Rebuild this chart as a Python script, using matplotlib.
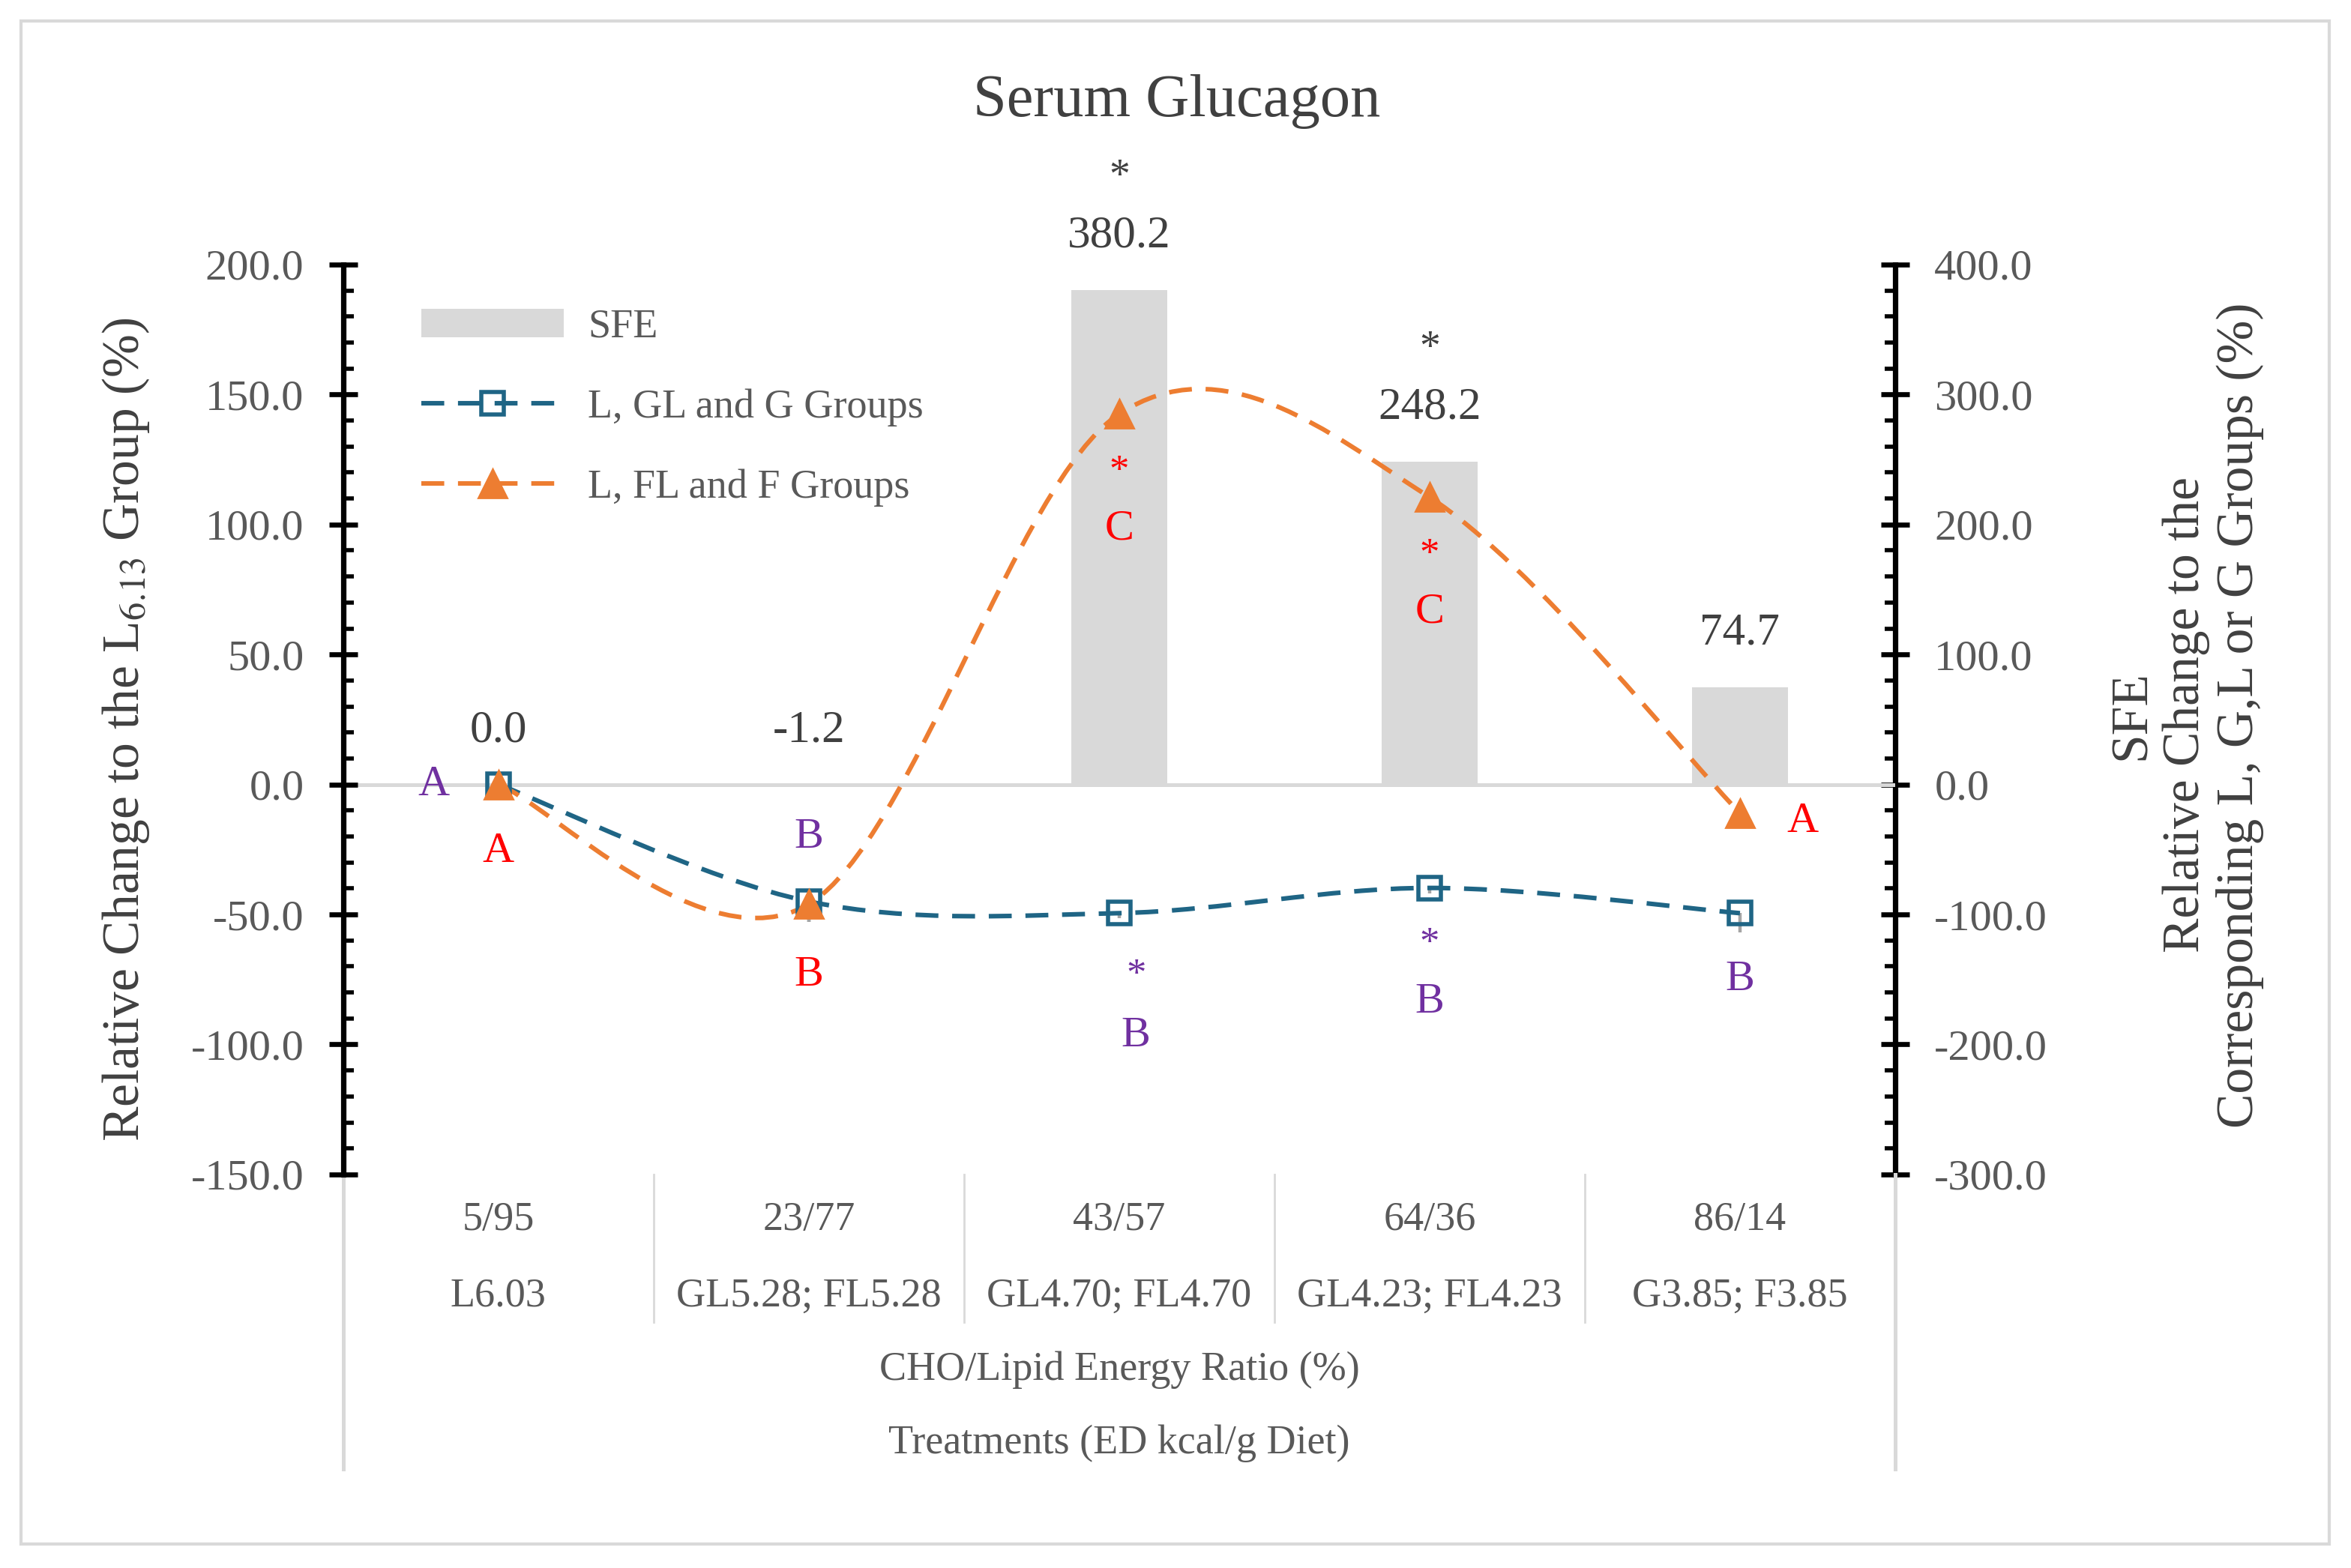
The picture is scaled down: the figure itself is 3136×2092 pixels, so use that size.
import matplotlib.pyplot as plt
import numpy as np
from matplotlib.path import Path
from matplotlib.patches import PathPatch, Rectangle
from matplotlib.lines import Line2D
from matplotlib.ticker import MultipleLocator, FormatStrFormatter

plt.rcParams['font.family'] = ['Liberation Serif', 'DejaVu Serif']
plt.rcParams['mathtext.fontset'] = 'stix'

# data
ratios = ['5/95', '23/77', '43/57', '64/36', '86/14']
treatments = ['L6.03', 'GL5.28; FL5.28', 'GL4.70; FL4.70', 'GL4.23; FL4.23', 'G3.85; F3.85']
sfe = [0.0, -1.2, 380.2, 248.2, 74.7]
sfe_star = [False, False, True, True, False]
g_groups = [0.0, -45.0, -49.5, -39.8, -49.5]
f_groups = [0.0, -46.0, 142.5, 110.5, -11.0]
g_err = [0.0, 8.0, 2.0, 2.0, 7.5]
f_err = [0.0, 7.0, 3.0, 3.0, 2.0]

# significance marks: (index, text, dx, dy in points)
g_marks = [(0, 'A', -31, 0), (1, 'B', 0, 31), (2, '*', 8, -30), (2, 'B', 8, -59),
           (3, '*', 0, -27), (3, 'B', 0, -55), (4, 'B', 0, -32)]
f_marks = [(0, 'A', 0, -32), (1, 'B', 0, -34), (2, '*', 0, -28), (2, 'C', 0, -55),
           (3, '*', 0, -28), (3, 'C', 0, -55), (4, 'A', 30, -4)]

BLUE = '#1F6585'
ORANGE = '#ED7D31'
BAR = '#D9D9D9'
PURPLE = '#7030A0'
RED = '#FF0000'
TXT = '#595959'
DARK = '#404040'
DASH = (0, (5, 3))


def smooth_path(xs, ys):
    # Excel-like smoothed line (Catmull-Rom as cubic Bezier)
    pts = np.column_stack([xs, ys]).astype(float)
    n = len(pts)
    verts = [pts[0]]
    codes = [Path.MOVETO]
    for i in range(n - 1):
        p0 = pts[max(i - 1, 0)]
        p1 = pts[i]
        p2 = pts[i + 1]
        p3 = pts[min(i + 2, n - 1)]
        verts += [p1 + (p2 - p0) / 6, p2 - (p3 - p1) / 6, p2]
        codes += [Path.CURVE4] * 3
    return Path(verts, codes)


x = np.arange(len(ratios))

fig = plt.figure(figsize=(15.68, 10.46), dpi=200)
ax = fig.add_axes([0.1460, 0.2510, 0.6601, 0.5803])
ax2 = ax.twinx()

bars = ax2.bar(x, sfe, width=0.31, color=BAR, zorder=1)
ax2.set_ylim(-300, 400)
ax.set_ylim(-150, 200)
ax.set_xlim(-0.5, 4.5)
ax.set_zorder(ax2.get_zorder() + 1)
ax.patch.set_visible(False)

ax.axhline(0, color=BAR, lw=1.8, zorder=1)

ax.errorbar(x, g_groups, yerr=[g_err, [0] * 5], fmt='none', ecolor='#A5A5A5', elinewidth=1.6, zorder=2)
ax.errorbar(x, f_groups, yerr=[f_err, [0] * 5], fmt='none', ecolor='#A5A5A5', elinewidth=1.6, zorder=2)

for ys, col in [(g_groups, BLUE), (f_groups, ORANGE)]:
    ax.add_patch(PathPatch(smooth_path(x, ys), facecolor='none', edgecolor=col,
                           lw=2.2, linestyle=DASH, zorder=3))
ax.plot(x, g_groups, 's', ms=11, mfc='none', mec=BLUE, mew=2, zorder=4)
ax.plot(x, f_groups, '^', ms=14, color=ORANGE, zorder=4)

# spines and ticks
for s in ['top', 'bottom', 'right']:
    ax.spines[s].set_visible(False)
for s in ['top', 'bottom', 'left']:
    ax2.spines[s].set_visible(False)
ax.spines['left'].set_linewidth(2.6)
ax2.spines['right'].set_linewidth(2.6)
ax.set_xticks([])
ax.set_yticks(np.arange(-150, 201, 50))
ax.yaxis.set_minor_locator(MultipleLocator(10))
ax2.set_yticks(np.arange(-300, 401, 100))
ax2.yaxis.set_minor_locator(MultipleLocator(20))
for a in (ax, ax2):
    a.yaxis.set_major_formatter(FormatStrFormatter('%.1f'))
    a.tick_params(axis='y', which='major', direction='inout', length=13.7, width=2.4,
                  labelsize=21, labelcolor=TXT, pad=12)
    a.tick_params(axis='y', which='minor', direction='in', length=5, width=2.0)

# bar value labels
for i, v in enumerate(sfe):
    top = max(v, 0)
    ax2.annotate(f'{v:.1f}', (i, top), xytext=(0, 26), textcoords='offset points',
                 ha='center', va='center', fontsize=22, color=DARK)
    if sfe_star[i]:
        ax2.annotate('*', (i, top), xytext=(0, 54), textcoords='offset points',
                     ha='center', va='center', fontsize=20, color=DARK)

# significance letters
for ys, marks, col in [(g_groups, g_marks, PURPLE), (f_groups, f_marks, RED)]:
    for i, t, dx, dy in marks:
        ax.annotate(t, (i, ys[i]), xytext=(dx, dy), textcoords='offset points',
                    ha='center', va='center', fontsize=21 if t != '*' else 19, color=col)

# legend
handles = [bars,
           Line2D([], [], color=BLUE, lw=2.2, ls=DASH, marker='s', ms=11, mfc='none', mew=2),
           Line2D([], [], color=ORANGE, lw=2.2, ls=DASH, marker='^', ms=14)]
leg = ax.legend(handles, ['SFE', 'L, GL and G Groups', 'L, FL and F Groups'],
                loc='upper left', bbox_to_anchor=(0.04, 0.97), frameon=False, fontsize=19.5,
                handlelength=3.5, handletextpad=0.6, labelspacing=1.05, borderaxespad=0)
for t in leg.get_texts():
    t.set_color(TXT)

# multi-level category axis
xt = ax.get_xaxis_transform()
for i in x:
    ax.text(i, -0.050, ratios[i], transform=xt, ha='center', va='center', fontsize=19.5, color=TXT)
    ax.text(i, -0.134, treatments[i], transform=xt, ha='center', va='center', fontsize=19.5, color=TXT)
ax.text(2, -0.215, 'CHO/Lipid Energy Ratio (%)', transform=xt, ha='center', va='center',
        fontsize=19.5, color=TXT)
ax.text(2, -0.296, 'Treatments (ED kcal/g Diet)', transform=xt, ha='center', va='center',
        fontsize=19.5, color=TXT)
for b in [0.5, 1.5, 2.5, 3.5]:
    ax.plot([b, b], [0, -0.162], transform=xt, color=BAR, lw=1.0, clip_on=False)
for b in [-0.5, 4.5]:
    ax.plot([b, b], [0, -0.324], transform=xt, color=BAR, lw=1.8, clip_on=False)

# titles and axis labels
fig.text(0.5006, 0.935, 'Serum Glucagon', ha='center', va='center', fontsize=29, color=DARK)
fig.text(0.0536, 0.535, 'Relative Change to the L$_{\\mathrm{6.13}}$ Group (%)', rotation=90,
         ha='center', va='center', fontsize=25, color=DARK)
fig.text(0.930, 0.544, 'SFE\nRelative Change to the\nCorresponding L, G,L or G Groups (%)',
         rotation=90, ha='center', va='center', multialignment='center', linespacing=1.17,
         fontsize=25, color=DARK)

fig.patches.append(Rectangle((0.0089, 0.0153), 0.982, 0.9713, transform=fig.transFigure,
                             fill=False, edgecolor=BAR, lw=1.5))

fig.savefig('out.png', dpi=200)
